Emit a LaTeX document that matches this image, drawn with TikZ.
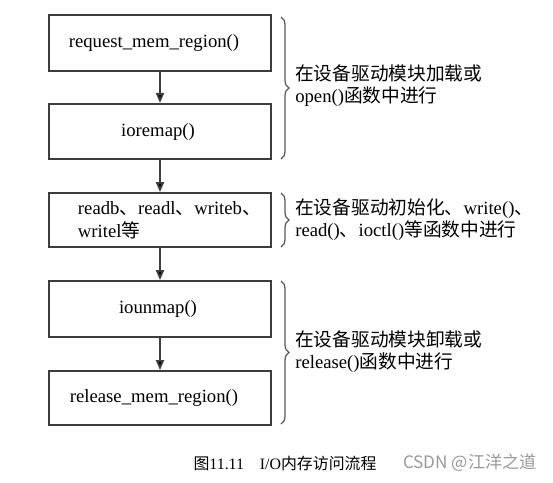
\documentclass[tikz,border=0pt]{standalone}
\usepackage{fontspec}
\setmainfont{Liberation Serif}
\newfontfamily\cjk{Noto Sans CJK SC}
\usepackage{tikz}
\usetikzlibrary{positioning,arrows.meta,decorations.pathreplacing}

\newcommand{\zh}[1]{{\cjk #1}}
\definecolor{boxgray}{HTML}{3C3C3C}
\definecolor{bracegray}{HTML}{5A5A5A}

\begin{document}
\begin{tikzpicture}[x=0.025cm, y=-0.025cm,
    every node/.style={font=\fontsize{13.3}{16.3}\selectfont},
    stepbox/.style={draw=boxgray, line width=1.3pt, minimum width=5.55cm, inner sep=0pt},
    flow/.style={draw=boxgray, line width=1.3pt, -{Triangle[length=0.25cm, width=0.2cm]}},
    grp/.style={draw=bracegray, line width=0.9pt, decorate, decoration={brace, amplitude=0.2cm}},
    note/.style={align=left, anchor=west, inner sep=0pt, font=\fontsize{13.3}{15.6}\selectfont}]

    \useasboundingbox (0,0) rectangle (553,482);

    % the five steps
    \node[stepbox, minimum height=1.4cm]  (req)  at (160,43)  {request\_mem\_region()\hspace*{0.3cm}};
    \node[stepbox, minimum height=1.38cm] (remap) at (160,131.5) {ioremap()\hspace*{0.1cm}};
    \node[stepbox, minimum height=1.35cm, align=left, text width=4.8cm] (rw) at (160,220)
        {\hspace*{0.35cm}readb\zh{、}readl\zh{、}writeb\zh{、}\\\hspace*{0.35cm}writel\zh{等}};
    \node[stepbox, minimum height=1.4cm]  (unmap) at (160,309) {iounmap()\hspace*{0.1cm}};
    \node[stepbox, minimum height=1.35cm] (rel)  at (160,398) {release\_mem\_region()\hspace*{0.3cm}};

    \path[flow]
        (req)   edge (remap)
        (remap) edge (rw)
        (rw)    edge (unmap)
        (unmap) edge (rel);

    % braces and where the calls live
    \coordinate (b1t) at (281,17);
    \coordinate (b1b) at (281,159);
    \coordinate (b2t) at (281,193);
    \coordinate (b2b) at (281,247);
    \coordinate (b3t) at (281,281);
    \coordinate (b3b) at (281,424);
    \draw[grp] (b1t) -- (b1b);
    \draw[grp] (b2t) -- (b2b);
    \draw[grp] (b3t) -- (b3b);

    \node[note] (note1) at (295,86)
        {\zh{在设备驱动模块加载或}\\open()\zh{函数中进行}};
    \node[note] (note2) at (295,220)
        {\zh{在设备驱动初始化、}write()\zh{、}\\read()\zh{、}ioctl()\zh{等函数中进行}};
    \node[note] (note3) at (295,352)
        {\zh{在设备驱动模块卸载或}\\release()\zh{函数中进行}};

    % caption and mark
    \node[font=\fontsize{11.3}{13}\selectfont] (cap) at (285,463)
        {\zh{图}11.11\hspace{1em}I/O\zh{内存访问流程}};
    \node[font=\cjk\fontsize{12.2}{14}\selectfont, text=black!40] (mark) at (470,463)
        {CSDN @江洋之道};

\end{tikzpicture}
\end{document}
